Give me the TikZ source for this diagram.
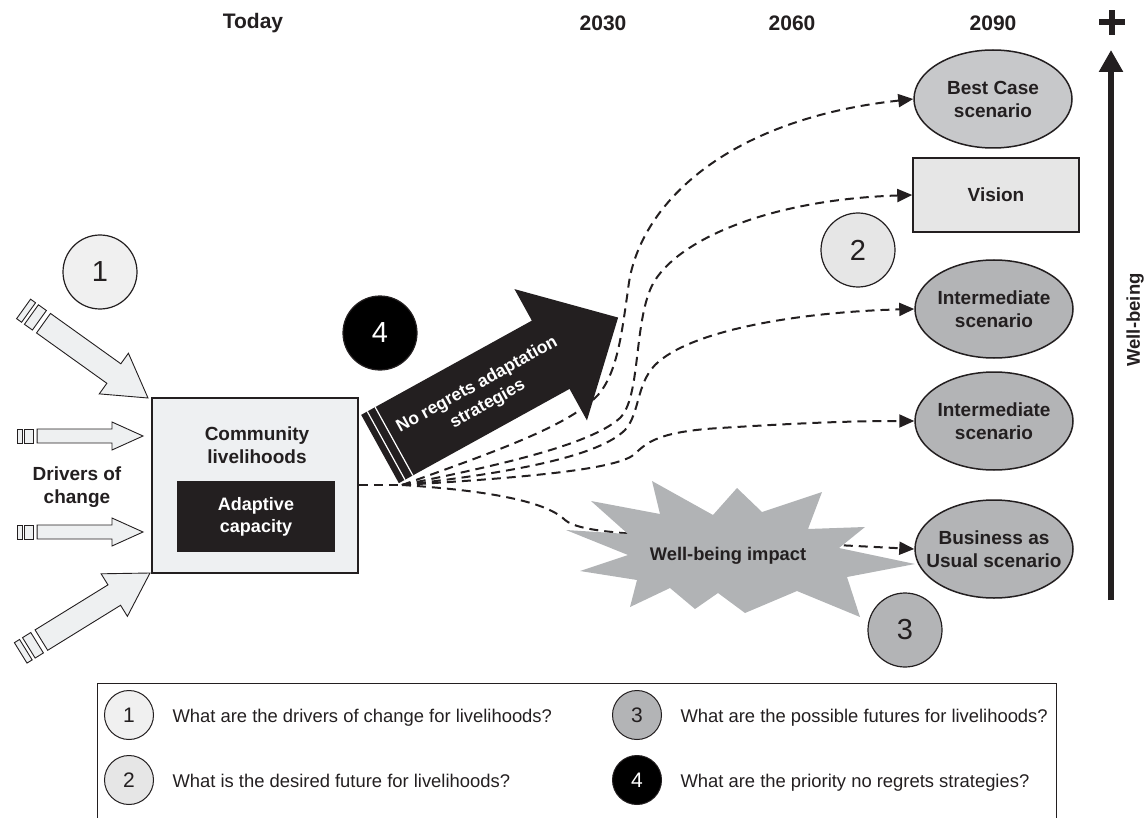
\documentclass[tikz,border=0pt]{standalone}
\usepackage{fontspec}
\setmainfont{Liberation Sans}
\usetikzlibrary{arrows.meta,shapes.geometric}
\definecolor{ink}{HTML}{231F20}
\definecolor{arrowfill}{HTML}{EEF0F1}
\definecolor{commfill}{HTML}{EEF0F2}
\definecolor{cfill}{HTML}{F0F0F0}
\definecolor{visfill}{HTML}{E6E6E6}
\definecolor{bestfill}{HTML}{C7C8CA}
\definecolor{scenfill}{HTML}{B3B4B6}
\definecolor{burstfill}{HTML}{B1B3B5}
% fat outlined arrow: #1 tip, #2 angle, #3 length, #4 shaft half width, #5 head half width, #6 head length
\newcommand\fatarr[6]{%
 \begin{scope}[shift={#1},rotate=#2]
  \draw[fatarrow] (0,0) -- ({-#6},{-#5}) -- ({-#6},{-#4}) -- ({-0.84*#3},{-#4}) -- ({-0.84*#3},{#4}) -- ({-#6},{#4}) -- ({-#6},{#5}) -- cycle;
  \draw[fatarrow] ({-0.873*#3},{-#4}) rectangle ({-0.937*#3},{#4});
  \draw[fatarrow] ({-0.96*#3},{-#4}) rectangle ({-#3},{#4});
 \end{scope}}
\begin{document}
\begin{tikzpicture}[x=1pt,y=-1pt,
  lbl/.style={font=\bfseries\fontsize{19}{23}\selectfont, text=ink, align=center},
  yr/.style={font=\bfseries\fontsize{21}{25}\selectfont, text=ink},
  num/.style={circle, draw=ink, line width=1.2pt, minimum size=74pt, inner sep=0pt, font=\fontsize{29}{30}\selectfont, text=ink},
  lnum/.style={circle, draw=ink, line width=1pt, minimum size=49pt, inner sep=0pt, font=\fontsize{21}{22}\selectfont, text=ink},
  scen/.style={ellipse, draw=ink, line width=1.5pt, minimum width=158pt, minimum height=98pt, inner sep=0pt},
  dl/.style={draw=ink, line width=2pt, dash pattern=on 9pt off 6pt},
  dla/.style={dl, -{Triangle[length=15pt,width=13pt]}},
  fatarrow/.style={draw=ink, line width=0.9pt, fill=arrowfill},
  legtxt/.style={font=\fontsize{18.4}{22}\selectfont, text=ink, anchor=base west}
]
\useasboundingbox (0,0) rectangle (1148,818);

% time line
\node[yr] (today) at (253,23) {Today};
\node[yr] (y2030) at (603,23) {2030};
\node[yr] (y2060) at (792,23) {2060};
\node[yr] (y2090) at (993,23) {2090};

% well-being axis
\fill[ink] (1099,19.5) rectangle (1125,25.5);
\fill[ink] (1109,10) rectangle (1115,35);
\coordinate (wb0) at (1111,600);
\coordinate (wb1) at (1111,50);
\draw[ink, line width=6pt, -{Triangle[length=22pt,width=23pt]}] (wb0) -- (wb1);
\node[font=\bfseries\fontsize{18.5}{20}\selectfont, text=ink, rotate=90] (wb) at (1135,320) {Well-being};

% scenarios
\node[scen, fill=bestfill] (best) at (993,99) {};
\node[lbl] (bestt) at (best.center) {Best Case\\scenario};
\node[draw=ink, line width=1.5pt, fill=visfill, minimum width=166pt, minimum height=74pt, lbl] (vision) at (996,195) {Vision};
\node[scen, fill=scenfill] (int1) at (994,309) {};
\node[lbl] (int1t) at (int1.center) {Intermediate\\scenario};
\node[scen, fill=scenfill] (int2) at (994,421) {};
\node[lbl] (int2t) at (int2.center) {Intermediate\\scenario};
\node[scen, fill=scenfill] (bau) at (994,549) {};
\node[lbl] (baut) at (bau.center) {Business as\\Usual scenario};

% community box
\node[draw=ink, line width=1.8pt, fill=commfill, minimum width=206pt, minimum height=175pt] (comm) at (255,485.5) {};
\node[lbl] (commtxt) at (257,445) {Community\\livelihoods};
\node[fill=ink, minimum width=158pt, minimum height=71pt, font=\bfseries\fontsize{18}{22}\selectfont, text=white, align=center] (adapt) at (256,516.5) {Adaptive\\capacity};
\node[lbl] (drivers) at (77,487) {Drivers of\\change};

% drivers arrows
\fatarr{(143,436)}{0}{126}{7}{14}{31}
\fatarr{(143,532)}{0}{126}{7}{14}{31}
\fatarr{(148,398)}{-35.6}{153}{12}{25}{42}
\fatarr{(150,573)}{31.7}{152}{12}{25}{42}

% no regrets arrow
\begin{scope}[shift={(380,449)}, rotate=28.9]
 \fill[ink] (0,-39) -- (195,-39) -- (195,-75) -- (272,0) -- (195,75) -- (195,39) -- (0,39) -- cycle;
 \draw[white, line width=1.2pt] (7,-39) -- (7,39) (16,-39) -- (16,39);
 \node[font=\bfseries\fontsize{17.5}{22}\selectfont, text=white, align=center, rotate=28.9] (nrtxt) at (116,2) {No regrets adaptation\\strategies};
\end{scope}

% numbered circles
\node[num, fill=cfill] (n1) at (100,272) {1};
\node[num, fill=black, text=white] (n4) at (380,333) {4};
\node[num, fill=visfill] (n2) at (858,250) {2};
\node[num, fill=scenfill] (n3) at (905,630) {3};

% pathways
\coordinate (fan) at (402,485);
\draw[dl] (comm.east |- fan) -- (fan);
\draw[dla] (fan) .. controls (500,450) and (570,425) .. (598,395) .. controls (618,372) and (622,330) .. (628,290) .. controls (636,210) and (720,120) .. (best.west);
\draw[dla] (fan) .. controls (500,465) and (590,445) .. (620,418) .. controls (640,398) and (634,330) .. (650,290) .. controls (668,245) and (760,200) .. (vision.west);
\draw[dla] (fan) .. controls (520,472) and (600,455) .. (625,430) .. controls (640,413) and (636,385) .. (655,365) .. controls (690,330) and (800,312) .. (int1.west);
\draw[dla] (fan) .. controls (520,478) and (610,470) .. (632,456) .. controls (645,446) and (650,432) .. (720,428) .. controls (800,423) and (850,421) .. (int2.west);
\draw[dla] (fan) .. controls (480,490) and (545,500) .. (565,520) .. controls (580,533) and (640,534) .. (700,538) -- (bau.west);

% impact burst
\fill[burstfill] (566,530) -- (628,534) -- (591,501) -- (660,514) -- (652,481) -- (713,515) -- (737,488) -- (762,512) -- (822,492) -- (808,529) -- (865,527) -- (839,548) -- (915,564) -- (847,577) -- (860,617) -- (797,591) -- (745,613) -- (718,593) -- (695,609) -- (670,588) -- (630,607) -- (637,580) -- (580,571) -- (628,555) -- cycle;
\node[font=\bfseries\fontsize{18.3}{20}\selectfont, text=ink] (impact) at (728,556) {Well-being impact};

% legend
\draw[ink, line width=1pt] (97,830) -- (97,683) -- (1056,683) -- (1056,830);
\node[lnum, fill=cfill] (l1) at (129,715) {1};
\node[lnum, fill=visfill] (l2) at (129,780) {2};
\node[lnum, fill=scenfill] (l3) at (637,715) {3};
\node[lnum, fill=black, text=white] (l4) at (637,780) {4};
\node[legtxt] (t1) at (169,722) {What are the drivers of change for livelihoods?};
\node[legtxt] (t2) at (169,787) {What is the desired future for livelihoods?};
\node[legtxt] (t3) at (677,722) {What are the possible futures for livelihoods?};
\node[legtxt] (t4) at (677,787) {What are the priority no regrets strategies?};
\end{tikzpicture}
\end{document}
